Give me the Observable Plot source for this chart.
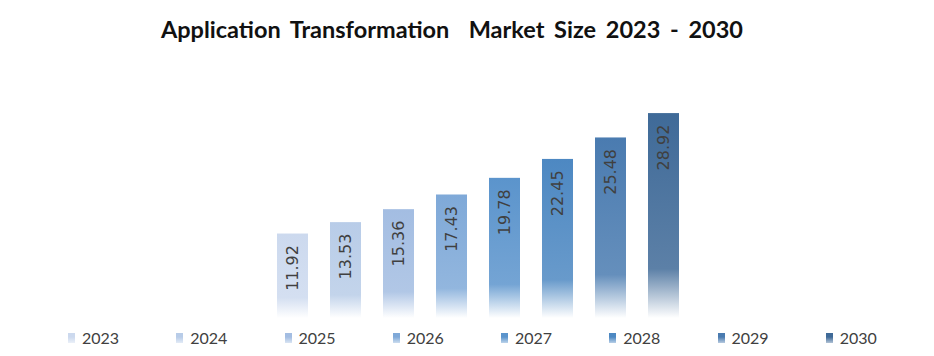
<!DOCTYPE html>
<html>
<head>
<meta charset="utf-8">
<script src="https://cdn.jsdelivr.net/npm/d3@7"></script>
<script src="https://cdn.jsdelivr.net/npm/@observablehq/plot@0.6"></script>
<style>
  body { margin: 0; background: #fff; width: 934px; height: 356px; overflow: hidden; }
  #title { height: 60px; box-sizing: border-box; padding-top: 15px; padding-right: 30px; text-align: center; font-family: Lato, sans-serif; font-weight: bold; font-size: 23.5px; word-spacing: 4px; color: #111; white-space: pre; }
  #legend { display: flex; padding-left: 68px; margin-top: 6px; font-family: "Liberation Sans Narrow", Lato, sans-serif; font-size: 16px; color: #404040; }
  .item { width: 109.8px; display: flex; align-items: center; }
  .sw { width: 7px; height: 10px; margin-right: 7px; }
</style>
</head>
<body>
<div id="title">Application Transformation  Market Size 2023 - 2030</div>
<div id="chart"></div>
<div id="legend"></div>
<script>
const years = ["2023", "2024", "2025", "2026", "2027", "2028", "2029", "2030"];
const values = [11.92, 13.53, 15.36, 17.43, 19.78, 22.45, 25.48, 28.92];
const colors = ["#ccd9ee", "#b8cce8", "#a3bde2", "#7fa9d8", "#5b94cc", "#4d88c2", "#4a7bb0", "#3f6a98"];

const data = years.map((y, i) => ({year: y, value: values[i], grad: `url(#g${i})`}));

const plot = Plot.plot({
  width: 934,
  height: 262,
  marginLeft: 253,
  marginRight: 232,
  marginTop: 10,
  marginBottom: 4,
  x: {domain: years, padding: 0.42, axis: null},
  y: {domain: [0, 35], axis: null},
  marks: [
    Plot.barY(data, {x: "year", y: "value", fill: "grad"}),
    Plot.text(data, {x: "year", y: "value", text: d => d.value.toFixed(2), rotate: -90, textAnchor: "end", dy: 11, fontSize: 16, fill: "#404040", fontFamily: "DejaVu Sans"})
  ]
});

const ns = "http://www.w3.org/2000/svg";
const defs = document.createElementNS(ns, "defs");
colors.forEach((c, i) => {
  const g = document.createElementNS(ns, "linearGradient");
  g.setAttribute("id", `g${i}`);
  g.setAttribute("x1", "0"); g.setAttribute("y1", "0");
  g.setAttribute("x2", "0"); g.setAttribute("y2", "1");
  const light = d3.interpolateRgb(c, "#ffffff")(0.15);
  [[0, c], [0.76, light], [1, "#ffffff"]].forEach(([o, col]) => {
    const s = document.createElementNS(ns, "stop");
    s.setAttribute("offset", o);
    s.setAttribute("stop-color", col);
    g.appendChild(s);
  });
  defs.appendChild(g);
});
plot.insertBefore(defs, plot.firstChild);
document.getElementById("chart").appendChild(plot);

const legend = document.getElementById("legend");
years.forEach((y, i) => {
  const it = document.createElement("div");
  it.className = "item";
  const sw = document.createElement("div");
  sw.className = "sw";
  sw.style.background = `linear-gradient(${colors[i]} 40%, ${d3.interpolateRgb(colors[i], "#ffffff")(0.6)})`;
  const t = document.createElement("span");
  t.textContent = y;
  it.appendChild(sw); it.appendChild(t);
  legend.appendChild(it);
});
</script>
</body>
</html>
